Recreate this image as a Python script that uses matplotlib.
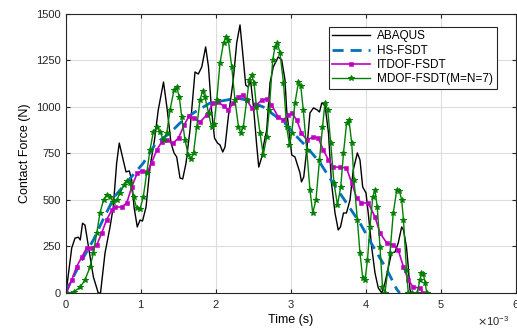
#!/usr/bin/env python3
"""Contact force history: ABAQUS vs HS-FSDT, ITDOF-FSDT and MDOF-FSDT."""

import matplotlib
matplotlib.use("Agg")
import matplotlib.pyplot as plt
from matplotlib.ticker import ScalarFormatter
import numpy as np

plt.rcParams["font.family"] = ["Liberation Sans", "DejaVu Sans"]

# time values are in ms, scaled to seconds when plotted
ABAQUS_T = [0, 0.076, 0.12, 0.165, 0.19, 0.22, 0.253, 0.3, 0.365, 0.43, 0.46, 0.52, 0.587,
            0.63, 0.675, 0.71, 0.756, 0.8, 0.844, 0.876, 0.907, 0.95, 0.987, 1.02, 1.067,
            1.12, 1.18, 1.23, 1.3, 1.35, 1.4, 1.44, 1.476, 1.52, 1.556, 1.6, 1.653, 1.72,
            1.764, 1.81, 1.862, 1.9, 1.94, 1.98, 2.02, 2.053, 2.09, 2.12, 2.164, 2.23,
            2.276, 2.32, 2.356, 2.396, 2.43, 2.46, 2.5, 2.54, 2.57, 2.61, 2.64, 2.676,
            2.72, 2.764, 2.83, 2.876, 2.92, 2.942, 2.987, 3.01, 3.053, 3.12, 3.14, 3.17,
            3.21, 3.253, 3.3, 3.35, 3.38, 3.41, 3.453, 3.5, 3.54, 3.587, 3.63, 3.66, 3.7,
            3.74, 3.787, 3.83, 3.885, 3.92, 3.956, 4.0, 4.03, 4.076, 4.12, 4.164, 4.21,
            4.253, 4.3, 4.34, 4.387, 4.43, 4.476, 4.5, 4.54, 4.564, 4.587, 4.61, 4.75]
ABAQUS_F = [0, 242, 295, 300, 285, 375, 365, 247, 86, 0, 0, 215, 355,
            462, 698, 806, 726, 651, 656, 607, 462, 355, 392, 387, 462,
            677, 823, 984, 1134, 984, 806, 753, 731, 618, 613, 698, 876, 1188,
            1177, 1215, 1323, 1215, 984, 833, 806, 796, 758, 785, 946, 1145,
            1344, 1441, 1290, 1118, 1107, 1145, 1000, 806, 677, 731, 806, 876,
            1129, 1215, 1269, 1253, 1145, 984, 823, 742, 731, 645, 597, 624,
            769, 968, 995, 984, 973, 1021, 1011, 860, 591, 430, 339, 355, 430,
            430, 500, 661, 753, 715, 570, 538, 430, 247, 108, 27, 0,
            54, 140, 215, 220, 269, 355, 339, 247, 140, 16, 0, 0]

HS_T = [0, 0.03, 0.19, 0.365, 0.5, 0.65, 1.03, 1.2, 1.387, 1.52, 1.7, 1.92, 2.14, 2.276,
        2.41, 2.63, 2.81, 2.94, 3.03, 3.21, 3.39, 3.56, 3.74, 3.92, 4.1, 4.28, 4.41, 4.45]
HS_F = [0, 32, 161, 285, 400, 520, 698, 806, 860, 914, 968, 1021, 1037, 1048,
        1037, 1000, 946, 905, 860, 785, 698, 591, 484, 376, 247, 124, 20, 0]

ITDOF_T = [0, 0.076, 0.14, 0.21, 0.276, 0.34, 0.41, 0.476, 0.54, 0.61, 0.65, 0.74, 0.81,
           0.876, 0.95, 1.01, 1.085, 1.14, 1.21, 1.276, 1.34, 1.43, 1.5, 1.576, 1.64,
           1.7, 1.787, 1.876, 1.964, 2.03, 2.1, 2.164, 2.23, 2.3, 2.356, 2.41, 2.476,
           2.54, 2.61, 2.676, 2.74, 2.83, 2.9, 2.964, 3.01, 3.076, 3.14, 3.21, 3.3,
           3.364, 3.43, 3.5, 3.564, 3.65, 3.74, 3.81, 3.876, 3.94, 4.03, 4.12, 4.187,
           4.276, 4.364, 4.43, 4.5, 4.564, 4.63, 4.72, 4.764]
ITDOF_F = [0, 70, 140, 194, 242, 242, 258, 323, 392, 446, 462, 462, 484,
           570, 645, 656, 651, 698, 769, 812, 823, 806, 833, 903, 952,
           941, 919, 957, 1021, 1027, 1005, 984, 1021, 1054, 1064, 1037, 995,
           1011, 1037, 1043, 1011, 946, 930, 957, 968, 930, 860, 823, 839,
           833, 769, 715, 677, 677, 672, 591, 511, 484, 484, 409, 323,
           269, 258, 231, 140, 70, 32, 27, 0]

MDOF_T = [0, 0.1, 0.19, 0.253, 0.32, 0.365, 0.41, 0.453, 0.5, 0.54, 0.587, 0.63, 0.676,
          0.72, 0.773, 0.81, 0.853, 0.9, 0.942, 0.987, 1.03, 1.076, 1.12, 1.164, 1.21,
          1.253, 1.3, 1.343, 1.387, 1.44, 1.476, 1.51, 1.543, 1.587, 1.63, 1.667, 1.7,
          1.743, 1.787, 1.82, 1.853, 1.9, 1.94, 1.973, 2.01, 2.053, 2.1, 2.133, 2.164,
          2.21, 2.253, 2.3, 2.33, 2.364, 2.41, 2.443, 2.476, 2.507, 2.54, 2.587, 2.63,
          2.676, 2.71, 2.756, 2.787, 2.82, 2.853, 2.9, 2.942, 2.98, 3.01, 3.053, 3.1,
          3.13, 3.164, 3.21, 3.253, 3.29, 3.333, 3.38, 3.42, 3.453, 3.49, 3.53, 3.573,
          3.62, 3.663, 3.7, 3.742, 3.773, 3.81, 3.84, 3.885, 3.92, 3.956, 3.987, 4.02,
          4.053, 4.09, 4.12, 4.15, 4.187, 4.22, 4.253, 4.32, 4.364, 4.41, 4.444, 4.476,
          4.5, 4.54, 4.564, 4.62, 4.68, 4.72, 4.74, 4.764, 4.79, 4.81]
MDOF_F = [0, 5, 32, 70, 140, 215, 323, 430, 500, 527, 516, 489, 500,
          538, 581, 602, 591, 516, 457, 452, 516, 645, 769, 866, 892,
          866, 823, 860, 984, 1091, 1107, 1054, 946, 823, 742, 720, 753,
          892, 1037, 1086, 1054, 968, 892, 909, 1037, 1236, 1344, 1376, 1360,
          1215, 1037, 892, 860, 892, 1037, 1145, 1172, 1129, 1000, 860, 742,
          839, 984, 1253, 1323, 1344, 1290, 1129, 892, 796, 860, 1021, 1134,
          1113, 984, 769, 554, 430, 500, 715, 892, 1021, 984, 806, 591,
          473, 570, 753, 914, 930, 806, 607, 392, 215, 81, 70, 177,
          355, 516, 554, 462, 247, 32, 0, 215, 430, 554, 550, 500,
          392, 124, 0, 0, 0, 70, 106, 102, 54, 0]


def main() -> None:
    fig = plt.figure(figsize=(5.17, 3.32), dpi=100)
    ax = fig.add_axes([0.1277, 0.1175, 0.8703, 0.8405])

    ms = 1e-3
    ax.plot(np.array(ABAQUS_T) * ms, ABAQUS_F, color="black", lw=1.0, label="ABAQUS")
    ax.plot(np.array(HS_T) * ms, HS_F, color="#0072BD", lw=2.0, ls=(0, (4, 2.5)),
            label="HS-FSDT")
    ax.plot(np.array(ITDOF_T) * ms, ITDOF_F, color="#C000C0", lw=1.2, marker="s",
            ms=2.6, mew=0.4, label="ITDOF-FSDT")
    ax.plot(np.array(MDOF_T) * ms, MDOF_F, color="#008000", lw=1.0, marker="*",
            ms=3.8, mew=0.7, label="MDOF-FSDT(M=N=7)")

    ax.set_xlim(0, 6e-3)
    ax.set_ylim(0, 1500)
    ax.set_xticks(np.arange(0, 7) * ms)
    ax.set_yticks(np.arange(0, 1501, 250))
    fmt = ScalarFormatter(useMathText=True)
    fmt.set_powerlimits((-2, 2))
    ax.xaxis.set_major_formatter(fmt)
    ax.xaxis.get_offset_text().set_fontsize(8)
    ax.xaxis.get_offset_text().set_x(0.985)

    ax.grid(True, color="#dddddd", lw=0.8)
    ax.tick_params(direction="in", top=True, right=True, labelsize=8, length=3,
                   colors="#262626")
    for sp in ax.spines.values():
        sp.set_color("#262626")
        sp.set_linewidth(0.8)

    ax.set_xlabel("Time (s)", fontsize=9, labelpad=3)
    ax.set_ylabel("Contact Force (N)", fontsize=9, labelpad=4)

    leg = ax.legend(loc="upper right", bbox_to_anchor=(0.97, 0.975), fontsize=8.5,
                    fancybox=False, framealpha=1, edgecolor="#262626",
                    handlelength=3.2, borderpad=0.3, labelspacing=0.2,
                    handletextpad=0.6)
    leg.get_frame().set_linewidth(0.8)

    fig.savefig("out.png", dpi=100)
    plt.close("all")


if __name__ == "__main__":
    main()
